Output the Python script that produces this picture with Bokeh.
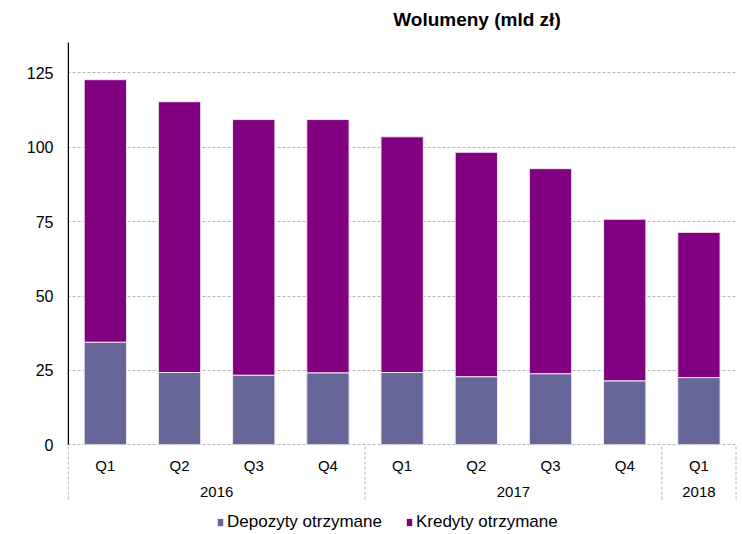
from bokeh.plotting import figure
from bokeh.models import ColumnDataSource, Legend, LegendItem, FixedTicker, Range1d
from bokeh.core.properties import value
from bokeh.embed import file_html
from bokeh.resources import INLINE

# ---- data ----
quarters = ["Q1", "Q2", "Q3", "Q4", "Q1", "Q2", "Q3", "Q4", "Q1"]
years = ["2016", "2017", "2018"]
year_counts = [4, 4, 1]
depozyty = [34.5, 24.3, 23.4, 24.2, 24.3, 22.9, 23.9, 21.5, 22.6]
kredyty = [88.2, 91.0, 85.9, 85.1, 79.2, 75.4, 68.9, 54.3, 48.8]
y_ticks = [0, 25, 50, 75, 100, 125]
series_names = ["Depozyty otrzymane", "Kredyty otrzymane"]
title_text = "Wolumeny (mld zł)"

FONT = "Liberation Sans"
DEP_COLOR = "#666699"
KRE_COLOR = "#800080"
GRID_COLOR = "#b4b4b4"

n = len(quarters)
x = [i + 0.5 for i in range(n)]
src = ColumnDataSource(dict(x=x, dep=depozyty, kre=kredyty))

Y_MIN, Y_MAX = -29.47, 149.31
AXIS_TOP = 135.2
SEP_BOTTOM = -18.4

p = figure(width=740, height=532, output_backend="svg", toolbar_location=None,
           x_range=Range1d(-0.01, n + 0.02), y_range=Range1d(Y_MIN, Y_MAX),
           x_axis_location=None,
           min_border_left=67, min_border_right=3, min_border_top=0, min_border_bottom=0)

p.outline_line_color = None
p.background_fill_color = "white"
p.xgrid.grid_line_color = None
p.ygrid.ticker = FixedTicker(ticks=y_ticks)
p.ygrid.grid_line_color = GRID_COLOR
p.ygrid.grid_line_dash = "3 2"
p.ygrid.grid_line_width = 1

ax = p.yaxis[0]
ax.ticker = FixedTicker(ticks=y_ticks)
ax.axis_line_color = None
ax.major_tick_line_color = None
ax.minor_tick_line_color = None
ax.major_tick_out = 0
ax.major_tick_in = 0
ax.major_label_standoff = 14
ax.major_label_text_font = FONT
ax.major_label_text_font_size = "16px"
ax.major_label_text_color = "#000000"

# chart title
p.text(x=[4.38], y=[143.0], text=[title_text], text_align="left", text_baseline="middle",
       text_font=value(FONT), text_font_size="19px", text_font_style="bold", text_color="#000000")

# bars
rs = p.vbar_stack(["dep", "kre"], x="x", width=0.57, source=src,
                  fill_color=[DEP_COLOR, KRE_COLOR], line_color="#f0e6f0", line_width=1)

# y axis line (solid black above zero)
p.segment(x0=[0], y0=[0], x1=[0], y1=[AXIS_TOP], line_color="black", line_width=1.5)

# group separators below the axis
bounds = [0]
for c in year_counts:
    bounds.append(bounds[-1] + c)
p.segment(x0=bounds, y0=[SEP_BOTTOM] * len(bounds), x1=bounds, y1=[0] * len(bounds),
          line_color=GRID_COLOR, line_dash="3 2", line_width=1)

# quarter labels
p.text(x=x, y=[-6.85] * n, text=quarters, text_align="center", text_baseline="middle",
       text_font=value(FONT), text_font_size="15px", text_color="#000000")

# year labels
year_x = [(bounds[i] + bounds[i + 1]) / 2 for i in range(len(years))]
p.text(x=year_x, y=[-15.7] * len(years), text=years, text_align="center", text_baseline="middle",
       text_font=value(FONT), text_font_size="15px", text_color="#000000")

legend = Legend(items=[LegendItem(label=series_names[0], renderers=[rs[0]]),
                       LegendItem(label=series_names[1], renderers=[rs[1]])],
                orientation="horizontal", location=(149, 0),
                border_line_color=None, background_fill_alpha=0,
                label_text_font=FONT, label_text_font_size="17px", label_text_color="#000000",
                glyph_width=8, glyph_height=10, label_standoff=3, spacing=23,
                padding=0, margin=0)
p.add_layout(legend, "center")

open("out.html", "w").write(file_html(p, INLINE))
